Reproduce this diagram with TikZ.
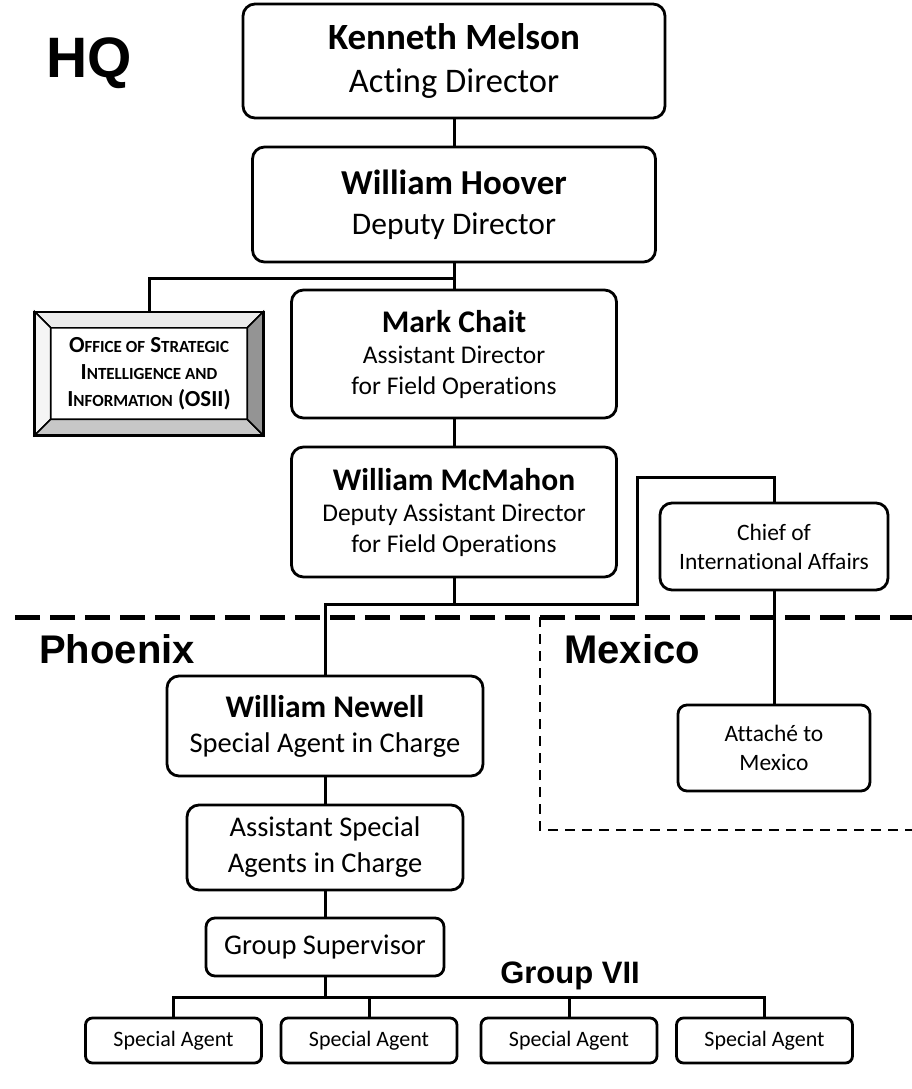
\documentclass[tikz,border=0pt]{standalone}
\usepackage{fontspec}
\setmainfont{Carlito}[Ligatures=NoCommon]
\newfontfamily\regionfont{Liberation Sans}
\newcommand\smc[2]{#1{\fontsize{17bp}{27bp}\selectfont #2}}

\begin{document}
\begin{tikzpicture}[x=1bp,y=-1bp,
    orgbox/.style={draw,line width=2.8bp,rounded corners=12bp,align=center,inner sep=0pt},
    agentbox/.style={orgbox,rounded corners=7bp,minimum width=176bp,minimum height=45bp,font=\fontsize{22bp}{26bp}\selectfont},
    region/.style={font=\regionfont\bfseries\fontsize{40bp}{40bp}\selectfont,anchor=base west,inner sep=0pt},
    link/.style={line width=3bp}]
    \useasboundingbox (0,0) rectangle (912,1089);
    % HQ
    \node[region,font=\regionfont\bfseries\fontsize{57bp}{57bp}\selectfont] (hq) at (46,77) {HQ};
    \node[orgbox,minimum width=422bp,minimum height=114bp,font=\fontsize{34.5bp}{43bp}\selectfont] (melson) at (454,61) {{\fontsize{37bp}{43bp}\selectfont\bfseries Kenneth Melson}\\Acting Director};
    \node[orgbox,minimum width=403bp,minimum height=115bp,font=\fontsize{31.5bp}{40bp}\selectfont] (hoover) at (454,204.5) {{\fontsize{35bp}{40bp}\selectfont\bfseries William Hoover}\\Deputy Director};
    \node[orgbox,minimum width=325bp,minimum height=128bp,font=\fontsize{25.5bp}{31bp}\selectfont] (chait) at (454,354) {{\fontsize{31.5bp}{31bp}\selectfont\bfseries Mark Chait}\\Assistant Director\\for Field Operations};
    \node[orgbox,minimum width=325bp,minimum height=130bp,font=\fontsize{25.5bp}{31bp}\selectfont] (mcmahon) at (454,512) {{\fontsize{31.5bp}{31bp}\selectfont\bfseries William McMahon}\\Deputy Assistant Director\\for Field Operations};
    \node[orgbox,minimum width=228bp,minimum height=87bp,font=\fontsize{23.5bp}{29bp}\selectfont] (chief) at (774,546.5) {Chief of\\International Affairs};
    % OSII with bevel
    \node[minimum width=228bp,minimum height=123bp,inner sep=0pt,align=center,font=\fontsize{23bp}{27bp}\selectfont\bfseries] (osii) at (149,373.5) {\smc{O}{FFICE OF} \smc{S}{TRATEGIC}\\\smc{I}{NTELLIGENCE AND}\\\smc{I}{NFORMATION} (OSII)};
    \begin{scope}[line width=1.6bp,line join=miter]
        \draw[fill=black!8] (osii.north west) -- (osii.north east) -- ([shift={(-16,16)}]osii.north east) -- ([shift={(16,16)}]osii.north west) -- cycle;
        \draw[fill=black!4] (osii.north west) -- (osii.south west) -- ([shift={(16,-16)}]osii.south west) -- ([shift={(16,16)}]osii.north west) -- cycle;
        \draw[fill=black!22] (osii.south west) -- (osii.south east) -- ([shift={(-16,-16)}]osii.south east) -- ([shift={(16,-16)}]osii.south west) -- cycle;
        \draw[fill=black!42] (osii.north east) -- (osii.south east) -- ([shift={(-16,-16)}]osii.south east) -- ([shift={(-16,16)}]osii.north east) -- cycle;
        \draw[line width=2.6bp] (osii.north west) rectangle (osii.south east);
    \end{scope}
    % boundaries
    \draw[line width=5bp,dash pattern=on 25bp off 10bp] (15,617) -- (912,617);
    \draw[line width=2.5bp,dash pattern=on 10bp off 7bp] (540,617) -- (540,830) -- (912,830);
    % Phoenix
    \node[region] (phoenix) at (39,663) {Phoenix};
    \node[orgbox,minimum width=316bp,minimum height=100bp,font=\fontsize{28.5bp}{35bp}\selectfont] (newell) at (325,726) {{\fontsize{31.5bp}{35bp}\selectfont\bfseries William Newell}\\Special Agent in Charge};
    \node[orgbox,minimum width=276bp,minimum height=85bp,font=\fontsize{28.5bp}{36bp}\selectfont] (asac) at (325,847.5) {Assistant Special\\Agents in Charge};
    \node[orgbox,rounded corners=9bp,minimum width=238bp,minimum height=58bp,font=\fontsize{28.5bp}{34bp}\selectfont] (gs) at (325,947) {Group Supervisor};
    \node[region,anchor=base,font=\regionfont\bfseries\fontsize{31bp}{31bp}\selectfont] (groupvii) at (570,983) {Group VII};
    \node[agentbox] (agentA) at (173.5,1040.5) {Special Agent};
    \node[agentbox] (agentB) at (369,1040.5) {Special Agent};
    \node[agentbox] (agentC) at (569,1040.5) {Special Agent};
    \node[agentbox] (agentD) at (764.5,1040.5) {Special Agent};
    % Mexico
    \node[region] (mexico) at (564,663) {Mexico};
    \node[orgbox,rounded corners=9bp,minimum width=192bp,minimum height=86bp,font=\fontsize{23.5bp}{29bp}\selectfont] (attache) at (774,748) {Attach\'e to\\Mexico};
    % connectors
    \coordinate (hqsplit) at (454,278);
    \coordinate (fosplit) at (454,604);
    \coordinate (intlA) at (637,604);
    \coordinate (intlB) at (637,477);
    \coordinate (gvsplit) at (325,997);
    \draw[link] (melson) -- (hoover);
    \draw[link] (hoover) -- (hqsplit) -| (osii.north);
    \draw[link] (hqsplit) -- (chait);
    \draw[link] (chait) -- (mcmahon);
    \draw[link] (mcmahon) -- (fosplit) -| (newell.north);
    \draw[link] (fosplit) -- (intlA) -- (intlB) -| (chief.north);
    \draw[link] (chief) -- (attache);
    \draw[link] (newell) -- (asac);
    \draw[link] (asac) -- (gs);
    \draw[link] (gs) -- (gvsplit);
    \foreach \a in {agentA,agentB,agentC,agentD}
        \draw[link] (gvsplit) -| (\a.north);
\end{tikzpicture}
\end{document}
